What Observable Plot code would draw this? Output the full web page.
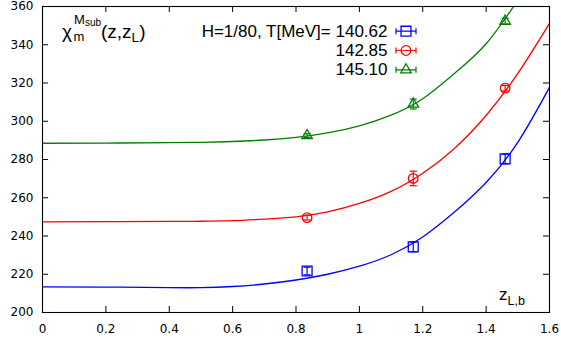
<!DOCTYPE html>
<html>
<head>
<meta charset="utf-8">
<script src="https://cdn.jsdelivr.net/npm/d3@7"></script>
<script src="https://cdn.jsdelivr.net/npm/@observablehq/plot@0.6"></script>
<style>
  body { margin: 0; background: #fff; }
  #chart { width: 561px; height: 343px; }
</style>
</head>
<body>
<div id="chart"></div>
<script>
// Fitted curves of chi_m^{M_sub}(z, z_L), sampled along z_{L,b}
const zGrid = [0, 0.2, 0.4, 0.5, 0.6, 0.7, 0.8, 0.9, 1.0, 1.1, 1.2, 1.3, 1.4, 1.5, 1.6];
const fit14062 = [213.4, 213.3, 213.0, 213.0, 213.6, 214.9, 217.0, 220.0, 224.2, 230.2, 239.5, 252.5, 268.0, 289.0, 317.7];
const fit14285 = [247.4, 247.5, 247.6, 247.7, 248.0, 248.8, 250.0, 252.6, 257.0, 263.3, 272.8, 285.8, 303.0, 325.0, 351.2];
const fit14510 = [288.5, 288.6, 288.8, 289.0, 289.4, 290.2, 291.6, 293.9, 297.6, 303.2, 311.8, 325.0, 340.5, 363.3];

// Lattice measurements with their errors
const zPoints = [0.835, 1.17, 1.46];
const chi14062 = [221.7, 234.3, 280.3];
const err14062 = [2.0, 2.5, 2.5];
const chi14285 = [249.6, 270.1, 317.3];
const err14285 = [1.2, 3.8, 1.4];
const chi14510 = [292.5, 309.0, 352.3];
const err14510 = [1.0, 2.6, 1.5];

const temperatures = ["140.62", "142.85", "145.10"];
const xTicks = [0, 0.2, 0.4, 0.6, 0.8, 1, 1.2, 1.4, 1.6];
const yTicks = [200, 220, 240, 260, 280, 300, 320, 340, 360];

const series = [
  {T: temperatures[0], fit: fit14062, chi: chi14062, err: err14062, color: "#0000ff", symbol: "square", r: 5.6},
  {T: temperatures[1], fit: fit14285, chi: chi14285, err: err14285, color: "#ff0000", symbol: "circle", r: 4.8},
  {T: temperatures[2], fit: fit14510, chi: chi14510, err: err14510, color: "#008000", symbol: "triangle", r: 3.9}
];

const fitRows = series.flatMap(s => s.fit.map((v, i) => ({T: s.T, z: zGrid[i], chi: v})));
const pointRows = series.flatMap(s => zPoints.map((z, i) => ({T: s.T, z, chi: s.chi[i], err: s.err[i]})));

// Small glyphs: error-bar cap and the key's horizontal error bar
const capSymbol = {draw(ctx) { ctx.moveTo(-3.5, 0); ctx.lineTo(3.5, 0); }};
const keyBarSymbol = {draw(ctx) {
  ctx.moveTo(-10, 0); ctx.lineTo(10, 0);
  ctx.moveTo(-10, -3); ctx.lineTo(-10, 3);
  ctx.moveTo(10, -3); ctx.lineTo(10, 3);
}};

const W = 561, H = 343;
const margin = {left: 42, right: 12, top: 6, bottom: 31};
const innerW = W - margin.left - margin.right;
const innerH = H - margin.top - margin.bottom;
const tickLen = 6;
const keyFont = "Liberation Sans, Arial, sans-serif";

const marks = [
  // inward ticks on all four sides
  Plot.tickX(xTicks, {x: d => d, insetTop: innerH - tickLen, stroke: "black"}),
  Plot.tickX(xTicks, {x: d => d, insetBottom: innerH - tickLen, stroke: "black"}),
  Plot.tickY(yTicks, {y: d => d, insetRight: innerW - tickLen, stroke: "black"}),
  Plot.tickY(yTicks, {y: d => d, insetLeft: innerW - tickLen, stroke: "black"}),
  Plot.axisX(xTicks, {tickSize: 0, tickPadding: 12, tickFormat: d => String(d), label: null}),
  Plot.axisY(yTicks, {tickSize: 0, tickPadding: 9, label: null}),
  Plot.line(fitRows, {x: "z", y: "chi", z: "T", stroke: "T", strokeWidth: 1.3, curve: "natural", clip: true}),
  Plot.ruleX(pointRows, {x: "z", y1: d => d.chi - d.err, y2: d => d.chi + d.err, stroke: "T", strokeWidth: 1.2}),
  Plot.dot(pointRows, {x: "z", y: d => d.chi - d.err, symbol: capSymbol, stroke: "T", fill: "none", strokeWidth: 1.2}),
  Plot.dot(pointRows, {x: "z", y: d => d.chi + d.err, symbol: capSymbol, stroke: "T", fill: "none", strokeWidth: 1.2}),
  ...series.map(s => Plot.dot(pointRows.filter(d => d.T === s.T), {
    x: "z", y: "chi", symbol: s.symbol, r: s.r, stroke: s.color, fill: "none", strokeWidth: 1.3
  })),
  // key
  ...series.flatMap((s, i) => {
    const dy = 24.7 + i * 19.3;
    return [
      Plot.text([i === 0 ? `H=1/80, T[MeV]= ${s.T}` : s.T], {
        text: d => d, frameAnchor: "top-left", dx: 345, dy,
        textAnchor: "end", lineAnchor: "middle", fontSize: 17, fontFamily: keyFont, fill: "black"
      }),
      Plot.dot([s], {frameAnchor: "top-left", dx: 363.5, dy, symbol: keyBarSymbol, stroke: s.color, fill: "none", strokeWidth: 1.2}),
      Plot.dot([s], {frameAnchor: "top-left", dx: 363.5, dy, symbol: s.symbol, r: s.r, stroke: s.color, fill: "none", strokeWidth: 1.3})
    ];
  }),
  Plot.frame({stroke: "black", strokeWidth: 1.1})
];

const plot = Plot.plot({
  width: W,
  height: H,
  marginLeft: margin.left,
  marginRight: margin.right,
  marginTop: margin.top,
  marginBottom: margin.bottom,
  x: {domain: [0, 1.6]},
  y: {domain: [200, 360]},
  color: {domain: temperatures, range: series.map(s => s.color)},
  style: {fontFamily: "DejaVu Sans, sans-serif", fontSize: "12px", color: "black", background: "white", overflow: "visible"},
  marks
});

// Axis-style labels with sub- and superscripts
const svg = d3.select(plot);
const label = (x, y, size) => svg.append("text")
  .attr("x", x).attr("y", y)
  .attr("text-anchor", "start")
  .attr("dominant-baseline", "alphabetic")
  .style("font-family", keyFont).style("font-size", `${size}px`).attr("fill", "black");

label(62, 38, 19).text("χ");
label(73.5, 41, 13).text("m");
label(74, 24.3, 13).text("M");
label(85, 26, 10).text("sub");
const arg = label(101, 38, 19).text("(z,z");
arg.append("tspan").attr("dy", 3.5).style("font-size", "13.5px").text("L");
arg.append("tspan").attr("dy", -3.5).style("font-size", "19px").text(")");

const zl = label(499, 300, 17).text("z");
zl.append("tspan").attr("dy", 5).style("font-size", "12.5px").text("L,b");

document.getElementById("chart").append(plot);
</script>
</body>
</html>
